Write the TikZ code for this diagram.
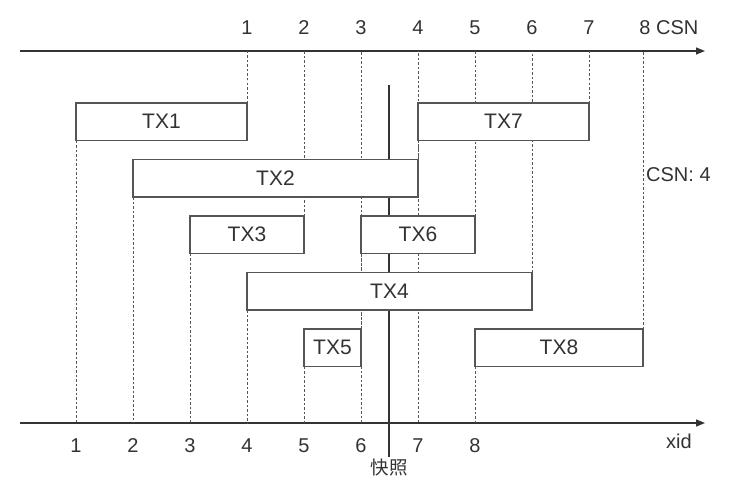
\documentclass[tikz,border=0pt]{standalone}
\usepackage{fontspec}
\setmainfont{Liberation Sans}
\newfontfamily\cjk{Noto Sans CJK SC}
\usetikzlibrary{arrows.meta}
\definecolor{ink}{HTML}{333333}
\definecolor{boxline}{HTML}{555555}
\definecolor{dashc}{HTML}{555555}
\tikzset{
  txbox/.style={draw=boxline, line width=1.4pt, fill=white, inner sep=0pt,
    minimum height=37.5pt, text=ink, font=\fontsize{21}{24}\selectfont},
  guide/.style={draw=dashc, line width=0.9pt, dash pattern=on 2.5pt off 2pt},
  axisline/.style={draw=ink, line width=1.2pt, -{Triangle[length=9pt,width=7pt]}},
  ticklab/.style={inner sep=0pt, text=ink, font=\fontsize{20}{23}\selectfont},
  snapline/.style={draw=ink, line width=1.2pt}
}
\begin{document}
\begin{tikzpicture}[x=1pt,y=-1pt]
\useasboundingbox (0,0) rectangle (747,495);
% axes
\coordinate (csnL) at (20,51);
\coordinate (csnR) at (705,51);
\coordinate (xidL) at (20,423);
\coordinate (xidR) at (705,423);
\draw[axisline] (csnL) -- (csnR);
\draw[axisline] (xidL) -- (xidR);
% tick labels
\foreach \k/\x in {1/247,2/304,3/361,4/418,5/475,6/532,7/589,8/645}
  \node[ticklab] (c\k) at (\x,28) {\k};
\node[ticklab, anchor=west] (csnlab) at (656,28) {CSN};
\foreach \k/\x in {1/76,2/133,3/190,4/247,5/304,6/361,7/418,8/475}
  \node[ticklab] (x\k) at (\x,446) {\k};
\node[ticklab] (xidlab) at (679,441) {xid};
% snapshot line
\coordinate (snapT) at (389,85);
\coordinate (snapB) at (389,457);
\draw[snapline] (snapT) -- (snapB);
\node[inner sep=0pt, text=ink, font=\cjk\fontsize{18.5}{21}\selectfont] (snaplab) at (389,468) {快照};
% guide lines (drawn before boxes so boxes cover them)
\foreach \xl/\xr/\yt in {76/247/103, 418/589/103, 133/418/159.5, 190/304/216, 361/475/216, 247/532/272.5, 304/361/329, 475/643/329}{
  \coordinate (gsw) at (\xl,\yt+37.5);
  \coordinate (gne) at (\xr,\yt);
  \draw[guide] (gsw) -- (gsw |- xidL);
  \draw[guide] (gne) -- (gne |- csnL);
}
% transaction boxes
\node[txbox, minimum width=171pt] (tx1) at (161.5,121.75) {TX1};
\node[txbox, minimum width=171pt] (tx7) at (503.5,121.75) {TX7};
\node[txbox, minimum width=285pt] (tx2) at (275.5,178.25) {TX2};
\node[txbox, minimum width=114pt] (tx3) at (247,234.75) {TX3};
\node[txbox, minimum width=114pt] (tx6) at (418,234.75) {TX6};
\node[txbox, minimum width=285pt] (tx4) at (389.5,291.25) {TX4};
\node[txbox, minimum width=57pt]  (tx5) at (332.5,347.75) {TX5};
\node[txbox, minimum width=168pt] (tx8) at (559,347.75) {TX8};
% CSN label
\node[ticklab, anchor=west] (csn4) at (646,175) {CSN: 4};
\end{tikzpicture}
\end{document}
